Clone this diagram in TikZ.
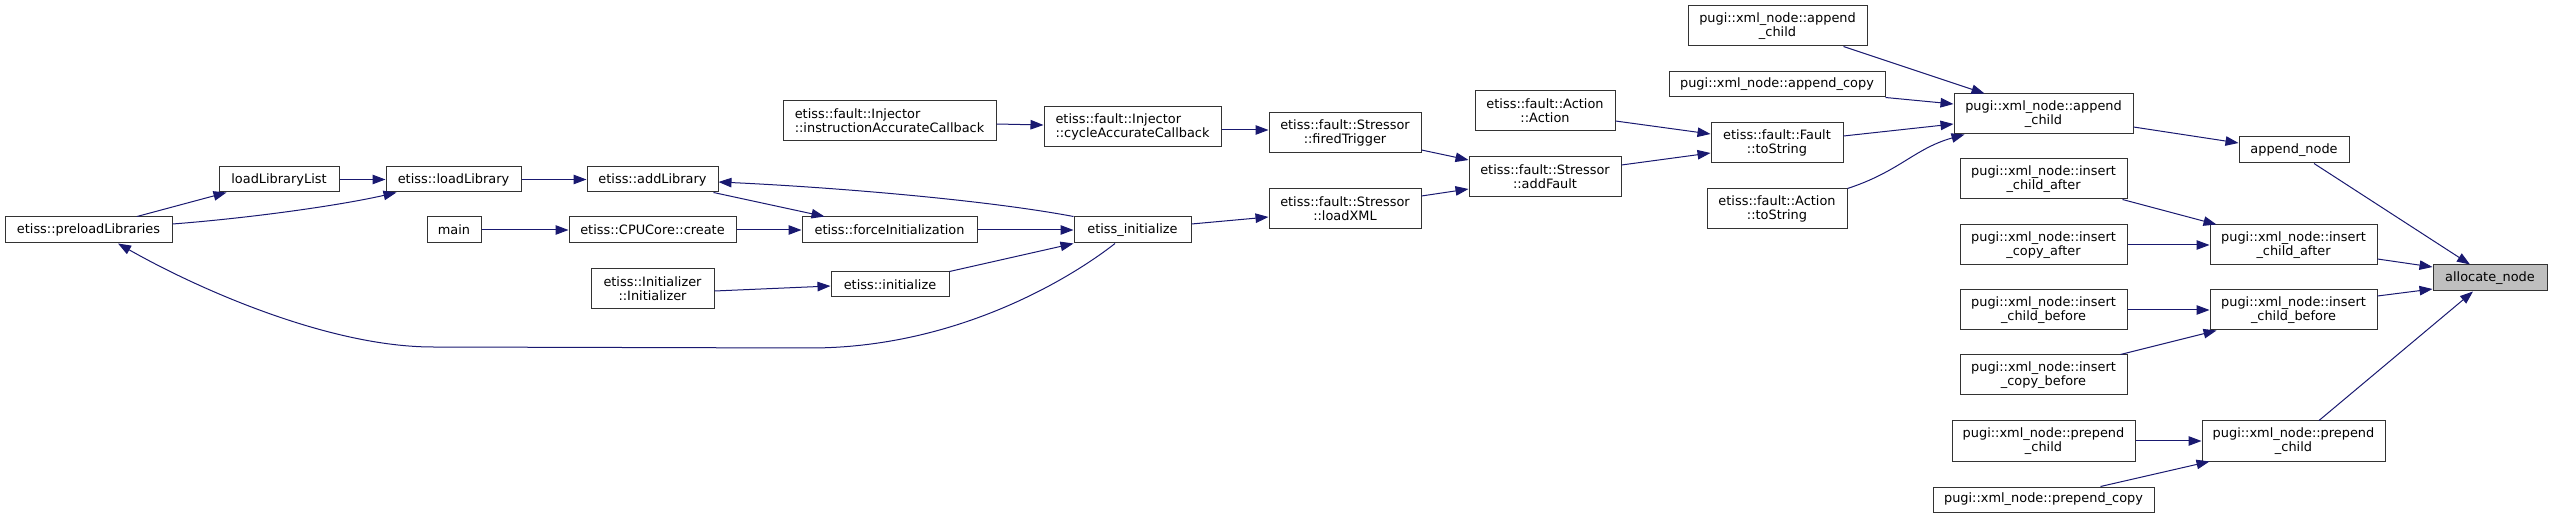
\documentclass[tikz,border=0pt]{standalone}
\usepackage{fontspec}
\setmainfont{DejaVu Sans}
\usetikzlibrary{arrows.meta}
\definecolor{edgec}{HTML}{191970}
\definecolor{rootc}{HTML}{BFBFBF}
\tikzset{
  box/.style={draw=black!80, line width=1pt, fill=white, rectangle, inner sep=0pt,
    align=center, font=\fontsize{12.9}{14.3}\selectfont, text=black},
  lbox/.style={box, align=left},
  rootbox/.style={box, fill=rootc},
  e/.style={draw=edgec, line width=1pt, -{Triangle[length=13pt,width=9.5pt]}},
}
\begin{document}
\begin{tikzpicture}[x=1pt,y=-1pt]
\useasboundingbox (0,0) rectangle (2552,518);
% nodes
\node[box, minimum width=167, minimum height=26] (pre) at (88.5,230) {etiss::preloadLibraries};
\node[box, minimum width=120, minimum height=25] (llist) at (279,179.5) {loadLibraryList};
\node[box, minimum width=135, minimum height=25] (lload) at (453.5,179.5) {etiss::loadLibrary};
\node[box, minimum width=131, minimum height=25] (addlib) at (652.5,179.5) {etiss::addLibrary};
\node[box, minimum width=54, minimum height=26] (main) at (454,230) {main};
\node[box, minimum width=167, minimum height=26] (create) at (652.5,230) {etiss::CPUCore::create};
\node[box, minimum width=175, minimum height=26] (force) at (889.5,230) {etiss::forceInitialization};
\node[box, minimum width=123, minimum height=40] (initr) at (652.5,289) {etiss::Initializer\\::Initializer};
\node[box, minimum width=118, minimum height=25] (einit2) at (890,284.5) {etiss::initialize};
\node[lbox, minimum width=213, minimum height=40] (instr) at (889.5,121) {etiss::fault::Injector\\::instructionAccurateCallback};
\node[lbox, minimum width=177, minimum height=40] (cycle) at (1132.5,127) {etiss::fault::Injector\\::cycleAccurateCallback};
\node[box, minimum width=117, minimum height=26] (einit) at (1132.5,230) {etiss\_initialize};
\node[box, minimum width=152, minimum height=40] (fired) at (1345,133) {etiss::fault::Stressor\\::firedTrigger};
\node[box, minimum width=152, minimum height=40] (loadxml) at (1345,209) {etiss::fault::Stressor\\::loadXML};
\node[box, minimum width=152, minimum height=40] (addfault) at (1545,177) {etiss::fault::Stressor\\::addFault};
\node[box, minimum width=140, minimum height=40] (action) at (1545,111) {etiss::fault::Action\\::Action};
\node[box, minimum width=132, minimum height=40] (fault) at (1777,143) {etiss::fault::Fault\\::toString};
\node[box, minimum width=140, minimum height=40] (atostr) at (1777,209) {etiss::fault::Action\\::toString};
\node[box, minimum width=179, minimum height=40] (appchild0) at (1777.5,26) {pugi::xml\_node::append\\\_child};
\node[box, minimum width=216, minimum height=25] (appcopy) at (1777,84.5) {pugi::xml\_node::append\_copy};
\node[box, minimum width=179, minimum height=40] (appchild) at (2043.5,114) {pugi::xml\_node::append\\\_child};
\node[box, minimum width=167, minimum height=40] (ica0) at (2043.5,179) {pugi::xml\_node::insert\\\_child\_after};
\node[box, minimum width=167, minimum height=40] (icopya) at (2043.5,245) {pugi::xml\_node::insert\\\_copy\_after};
\node[box, minimum width=167, minimum height=40] (icb0) at (2043.5,310) {pugi::xml\_node::insert\\\_child\_before};
\node[box, minimum width=167, minimum height=40] (icopyb) at (2043.5,375) {pugi::xml\_node::insert\\\_copy\_before};
\node[box, minimum width=183, minimum height=40] (prep0) at (2043.5,441) {pugi::xml\_node::prepend\\\_child};
\node[box, minimum width=221, minimum height=25] (prepcopy) at (2043.5,499.5) {pugi::xml\_node::prepend\_copy};
\node[box, minimum width=110, minimum height=26] (appnode) at (2294,150) {append\_node};
\node[box, minimum width=167, minimum height=40] (ica) at (2293.5,245) {pugi::xml\_node::insert\\\_child\_after};
\node[box, minimum width=167, minimum height=40] (icb) at (2293.5,310) {pugi::xml\_node::insert\\\_child\_before};
\node[box, minimum width=183, minimum height=40] (prep) at (2293.5,441) {pugi::xml\_node::prepend\\\_child};
\node[rootbox, minimum width=114, minimum height=26] (alloc) at (2490,278) {allocate\_node};
% edges
\draw[e] ([xshift=20pt]appnode.south) -- ([xshift=-20pt]alloc.north);
\draw[e] ([yshift=-14pt]ica.east) -- ([yshift=11pt]alloc.west);
\draw[e] ([yshift=14pt]icb.east) -- ([yshift=-11pt]alloc.west);
\draw[e] ([xshift=25.5pt]prep.north) -- ([xshift=-17pt]alloc.south);
\draw[e] ([yshift=-13pt]appchild.east) -- ([yshift=7pt]appnode.west);
\draw[e] ([xshift=-5pt]ica0.south east) -- ([xshift=7pt]ica.north west);
\draw[e] (icopya.east) -- (ica.west);
\draw[e] (icb0.east) -- (icb.west);
\draw[e] ([xshift=-7pt]icopyb.north east) -- ([xshift=7pt]icb.south west);
\draw[e] (prep0.east) -- (prep.west);
\draw[e] ([xshift=-54pt]prepcopy.north east) -- ([xshift=8pt]prep.south west);
\draw[e] ([xshift=-24pt]appchild0.south east) -- ([xshift=31pt]appchild.north west);
\draw[e] (appcopy.south east) -- ([yshift=10pt]appchild.west);
\draw[e] ([yshift=7pt]fault.east) -- ([yshift=-10pt]appchild.west);
\draw[e] (atostr.north east) .. controls +(52,-17) and +(-50,14) .. ([xshift=11pt]appchild.south west);
\draw[e] ([yshift=-10pt]action.east) -- ([yshift=9pt]fault.west);
\draw[e] ([yshift=12pt]addfault.east) -- ([yshift=-10pt]fault.west);
\draw[e] ([yshift=-17pt]fired.east) -- ([yshift=17pt]addfault.west);
\draw[e] ([yshift=13pt]loadxml.east) -- ([yshift=-12pt]addfault.west);
\draw[e] ([yshift=-3pt]cycle.east) -- ([yshift=3pt]fired.west);
\draw[e] ([yshift=-3pt]instr.east) -- ([yshift=2pt]cycle.west);
\draw[e] ([yshift=6pt]einit.east) -- ([yshift=-8pt]loadxml.west);
\draw[e] (force.east) -- (einit.west);
\draw[e] (einit2.north east) -- (einit.south west);
\draw[e] (einit.north west) .. controls +(-90,-17) and +(110,5) .. ([yshift=-2.5pt]addlib.east);
\draw[e] ([xshift=-5pt]addlib.south east) -- ([xshift=23pt]force.north west);
\draw[e] (create.east) -- (force.west);
\draw[e] (main.east) -- (create.west);
\draw[e] ([yshift=-2pt]initr.east) -- ([yshift=-1.5pt]einit2.west);
\draw[e] (lload.east) -- (addlib.west);
\draw[e] (llist.east) -- (lload.west);
\draw[e] ([xshift=48.5pt]pre.north) -- ([xshift=8pt]llist.south west);
\draw[e] ([yshift=6pt]pre.east) .. controls +(78,-6) and +(-57,13) .. ([xshift=11pt]lload.south west);
\draw[e] ([xshift=-17.5pt]einit.south) .. controls (1075,275) and (960,348) .. (810,348)
  -- (433,347) .. controls (330,347) and (200,290) .. ([xshift=29.5pt]pre.south);
\end{tikzpicture}
\end{document}
